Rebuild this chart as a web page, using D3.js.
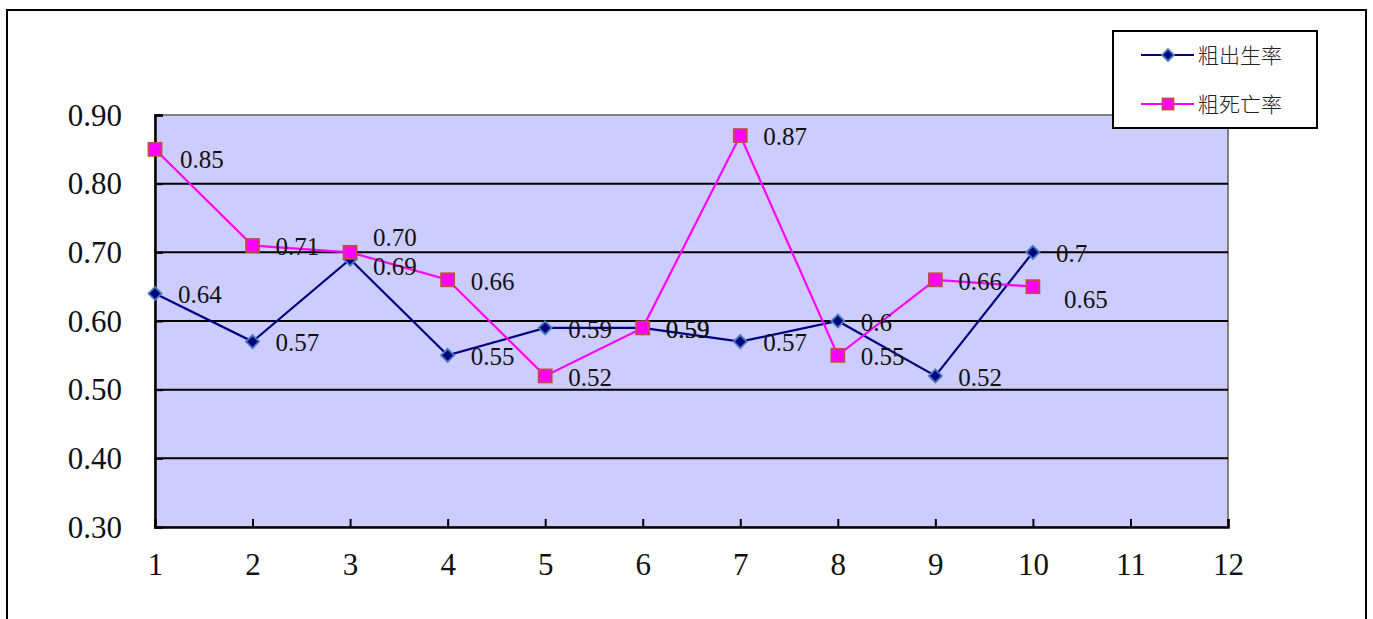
<!DOCTYPE html>
<html>
<head>
<meta charset="utf-8">
<script src="https://cdn.jsdelivr.net/npm/d3@7"></script>
<style>
  body { margin: 0; background: #fff; }
  svg { display: block; }
</style>
</head>
<body>
<svg id="chart" width="1373" height="619"></svg>
<script>
// values
const categories = [1, 2, 3, 4, 5, 6, 7, 8, 9, 10];
const xTicks = [1, 2, 3, 4, 5, 6, 7, 8, 9, 10, 11, 12];
const yTicks = [0.30, 0.40, 0.50, 0.60, 0.70, 0.80, 0.90];
const birthName = "粗出生率";
const birthValues = [0.64, 0.57, 0.69, 0.55, 0.59, 0.59, 0.57, 0.6, 0.52, 0.7];
const birthLabels = ["0.64", "0.57", "0.69", "0.55", "0.59", "0.59", "0.57", "0.6", "0.52", "0.7"];
const deathName = "粗死亡率";
const deathValues = [0.85, 0.71, 0.70, 0.66, 0.52, 0.59, 0.87, 0.55, 0.66, 0.65];
const deathLabels = ["0.85", "0.71", "0.70", "0.66", "0.52", "0.59", "0.87", "0.55", "0.66", "0.65"];

const plot_left = 155, plot_right = 1228, plot_top = 115, plot_bottom = 527;
const numFont = "'Liberation Serif', 'DejaVu Serif', serif";

const svg = d3.select('#chart');

// outer frame
svg.append('rect')
    .attr('x', 7).attr('y', 10)
    .attr('width', 1359).attr('height', 700)
    .style('fill', 'none')
    .style('stroke', 'black')
    .style('stroke-width', 2);

const xScale = d3.scaleLinear().domain([1, 12]).range([plot_left, plot_right]);
const yScale = d3.scaleLinear().domain([0.3, 0.9]).range([plot_bottom, plot_top]);

// plot area
svg.append('rect')
    .attr('x', plot_left).attr('y', plot_top)
    .attr('width', plot_right - plot_left).attr('height', plot_bottom - plot_top)
    .style('fill', '#CCCCFF')
    .style('stroke', '#808080')
    .style('stroke-width', 2);

// gridlines
svg.append('g')
    .selectAll('line')
    .data(yTicks.filter(v => v > 0.3 && v < 0.9))
    .enter()
    .append('line')
    .attr('x1', plot_left).attr('x2', plot_right)
    .attr('y1', d => yScale(d)).attr('y2', d => yScale(d))
    .style('stroke', 'black')
    .style('stroke-width', 2);

// axes
const yAxis = d3.axisLeft(yScale).tickValues(yTicks).tickSize(-8).tickPadding(40)
    .tickFormat(d3.format('.2f'));
const yg = svg.append('g').attr('transform', `translate(${plot_left},0)`).call(yAxis);

const xAxis = d3.axisBottom(xScale).tickValues(xTicks).tickSize(-8).tickPadding(40)
    .tickFormat(d3.format('d'));
const xg = svg.append('g').attr('transform', `translate(0,${plot_bottom})`).call(xAxis);

[yg, xg].forEach(g => {
    g.select('.domain').style('stroke', 'black').style('stroke-width', 2.5);
    g.selectAll('.tick line').style('stroke', 'black').style('stroke-width', 2);
    g.selectAll('.tick text')
        .style('font-family', numFont)
        .style('font-size', '31px')
        .style('fill', '#111');
});
yg.selectAll('.tick text').attr('x', -33).attr('dy', '0.33em');
xg.selectAll('.tick text').attr('y', 0).attr('dy', '1.55em');
xg.selectAll('.tick').filter(d => d === 1).select('line').remove();
yg.selectAll('.tick').filter(d => d === 0.3).select('line').remove();

// series
const birthData = categories.map((c, i) => ({ x: c, y: birthValues[i], label: birthLabels[i] }));
const deathData = categories.map((c, i) => ({ x: c, y: deathValues[i], label: deathLabels[i] }));

const line = d3.line().x(d => xScale(d.x)).y(d => yScale(d.y));

svg.append('path')
    .datum(birthData)
    .attr('d', line)
    .style('fill', 'none')
    .style('stroke', '#000080')
    .style('stroke-width', 2.2);

svg.append('path')
    .datum(deathData)
    .attr('d', line)
    .style('fill', 'none')
    .style('stroke', '#FF00FF')
    .style('stroke-width', 2.2);

function diamond(sel, size) {
    sel.append('path')
        .attr('d', d3.symbol().type(d3.symbolDiamond2).size(size)())
        .style('fill', '#000080')
        .style('stroke', '#4A7EBB')
        .style('stroke-width', 1.8);
}
function square(sel, side) {
    sel.append('rect')
        .attr('x', -side / 2).attr('y', -side / 2)
        .attr('width', side).attr('height', side)
        .style('fill', '#FF00FF')
        .style('stroke', '#BE4B48')
        .style('stroke-width', 1.8);
}

svg.append('g').selectAll('g')
    .data(birthData)
    .enter()
    .append('g')
    .attr('transform', d => `translate(${xScale(d.x)},${yScale(d.y)})`)
    .call(diamond, 110);

svg.append('g').selectAll('g')
    .data(deathData)
    .enter()
    .append('g')
    .attr('transform', d => `translate(${xScale(d.x)},${yScale(d.y)})`)
    .call(square, 13);

// data labels, nudged a little where the original moved them
const birthNudge = { 2: [0, 6] };
const deathNudge = { 0: [2, 9], 2: [0, -16], 9: [8, 12] };

function drawLabels(data, nudge) {
    svg.append('g').selectAll('text')
        .data(data)
        .enter()
        .append('text')
        .attr('x', (d, i) => xScale(d.x) + 23 + (nudge[i] ? nudge[i][0] : 0))
        .attr('y', (d, i) => yScale(d.y) + 1 + (nudge[i] ? nudge[i][1] : 0))
        .attr('dy', '0.35em')
        .style('font-family', numFont)
        .style('font-size', '25px')
        .style('fill', '#111')
        .text(d => d.label);
}
drawLabels(birthData, birthNudge);
drawLabels(deathData, deathNudge);

// legend
const legend = svg.append('g');
legend.append('rect')
    .attr('x', 1113).attr('y', 31)
    .attr('width', 204).attr('height', 97)
    .style('fill', 'white')
    .style('stroke', 'black')
    .style('stroke-width', 2);

const legendItems = [
    { name: birthName, color: '#000080', marker: 'diamond' },
    { name: deathName, color: '#FF00FF', marker: 'square' }
];
legendItems.forEach((item, i) => {
    const y = 55 + i * 49;
    legend.append('line')
        .attr('x1', 1141).attr('x2', 1194)
        .attr('y1', y).attr('y2', y)
        .style('stroke', item.color)
        .style('stroke-width', 2);
    const m = legend.append('g').attr('transform', `translate(1168,${y})`);
    if (item.marker === 'diamond') diamond(m, 90); else square(m, 11);
    legend.append('text')
        .attr('x', 1198).attr('y', y)
        .attr('dy', '0.36em')
        .style('font-family', "'Noto Sans CJK TC', 'Noto Sans CJK SC', sans-serif")
        .style('font-weight', 300)
        .style('font-size', '21px')
        .style('fill', '#222')
        .text(item.name);
});
</script>
</body>
</html>
